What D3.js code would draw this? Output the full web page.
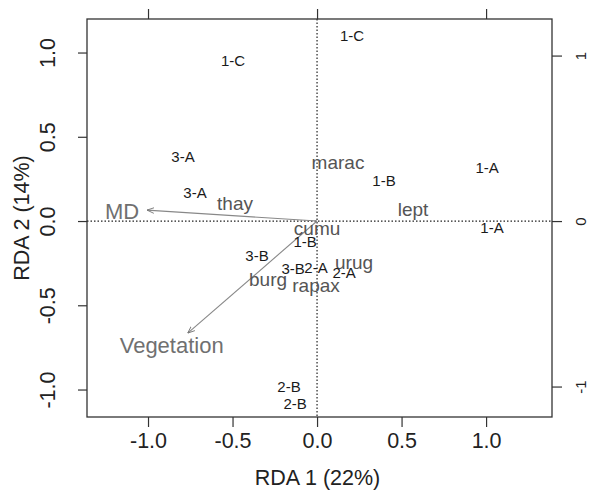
<!DOCTYPE html>
<html>
<head>
<meta charset="utf-8">
<script src="https://cdn.jsdelivr.net/npm/d3@7"></script>
<style>
  body { margin: 0; background: #fff; }
  text { font-family: "Liberation Sans", Arial, sans-serif; }
</style>
</head>
<body>
<script>
var width = 589;
var height = 491;

// site scores (labels drawn as text)
var siteLabels = ["1-C", "1-C", "3-A", "3-A", "1-A", "1-B", "1-A", "1-B", "3-B", "3-B", "2-A", "2-A", "2-B", "2-B"];
var siteX = [-0.497, 0.207, -0.793, -0.722, 1.006, 0.396, 1.035, -0.07, -0.355, -0.142, -0.006, 0.16, -0.166, -0.13];
var siteY = [0.95, 1.098, 0.38, 0.166, 0.32, 0.237, -0.04, -0.125, -0.208, -0.285, -0.279, -0.309, -0.98, -1.086];

// species scores
var speciesLabels = ["marac", "lept", "cumu", "thay", "urug", "burg", "rapax"];
var speciesX = [0.124, 0.568, 0.0, -0.485, 0.219, -0.29, -0.006];
var speciesY = [0.35, 0.071, -0.042, 0.107, -0.243, -0.344, -0.38];

// environmental vectors
var envLabels = ["MD", "Vegetation"];
var envX = [-1.006, -0.765];
var envY = [0.065, -0.665];
var envLabelX = [-1.154, -0.86];
var envLabelY = [0.06, -0.735];

var xTicks = [-1.0, -0.5, 0.0, 0.5, 1.0];
var yTicks = [-1.0, -0.5, 0.0, 0.5, 1.0];
var topTicks = [-1, 0, 1];
var rightTicks = [-1, 0, 1];

var mLeft = 87, mRight = 552, mTop = 19, mBottom = 417;

var x = d3.scaleLinear().domain([-1.361, 1.39]).range([mLeft, mRight]);
var y = d3.scaleLinear().domain([-1.163, 1.199]).range([mBottom, mTop]);
var x2 = d3.scaleLinear().domain([-1.361, 1.39]).range([mLeft, mRight]);
var y2 = d3.scaleLinear().domain([-1.184, 1.221]).range([mBottom, mTop]);

// R style labels with a plain hyphen minus
function fmt1(d) { return d.toFixed(1); }
function fmt0(d) { return String(d); }

var svg = d3.select("body").append("svg")
  .attr("width", width)
  .attr("height", height);

var axisColor = "#333";

// dotted zero lines
svg.append("line")
  .attr("x1", x(0)).attr("x2", x(0))
  .attr("y1", mTop).attr("y2", mBottom)
  .style("stroke", "#222")
  .style("stroke-width", 1.2)
  .style("stroke-dasharray", "1.5,2");
svg.append("line")
  .attr("x1", mLeft).attr("x2", mRight)
  .attr("y1", y(0)).attr("y2", y(0))
  .style("stroke", "#222")
  .style("stroke-width", 1.2)
  .style("stroke-dasharray", "1.5,2");

// axes
var bottomAxis = d3.axisBottom(x).tickValues(xTicks).tickSize(10).tickPadding(6).tickFormat(fmt1);
var leftAxis = d3.axisLeft(y).tickValues(yTicks).tickSize(9).tickFormat(fmt1);
var topAxis = d3.axisTop(x2).tickValues(topTicks).tickSize(10).tickFormat("");
var rightAxis = d3.axisRight(y2).tickValues(rightTicks).tickSize(10).tickFormat(fmt0);

function styleAxis(g) {
  g.select(".domain").remove();
  g.attr("font-family", null);
  g.selectAll(".tick line").style("stroke", axisColor).style("stroke-width", 1.2);
  g.selectAll(".tick text").style("fill", "#222");
}

svg.append("g")
  .attr("transform", "translate(0," + mBottom + ")")
  .call(bottomAxis)
  .call(styleAxis)
  .selectAll(".tick text")
  .style("font-size", "21.5px");

var gl = svg.append("g")
  .attr("transform", "translate(" + mLeft + ",0)")
  .call(leftAxis)
  .call(styleAxis);
gl.selectAll(".tick text")
  .style("font-size", "21.5px")
  .attr("text-anchor", "middle")
  .attr("x", 0).attr("y", 0).attr("dy", 0)
  .attr("transform", "translate(-32,0) rotate(-90)");

svg.append("g")
  .attr("transform", "translate(0," + mTop + ")")
  .call(topAxis)
  .call(styleAxis);

var gr = svg.append("g")
  .attr("transform", "translate(" + mRight + ",0)")
  .call(rightAxis)
  .call(styleAxis);
gr.selectAll(".tick text")
  .style("font-size", "15px")
  .attr("text-anchor", "middle")
  .attr("x", 0).attr("y", 0).attr("dy", 0)
  .attr("transform", "translate(34,0) rotate(-90)");

// box
svg.append("rect")
  .attr("x", mLeft).attr("y", mTop)
  .attr("width", mRight - mLeft).attr("height", mBottom - mTop)
  .style("fill", "none")
  .style("stroke", axisColor)
  .style("stroke-width", 1.3);

// axis titles
svg.append("text")
  .attr("x", (mLeft + mRight) / 2 - 2)
  .attr("y", 485)
  .attr("text-anchor", "middle")
  .style("font-size", "21.5px")
  .style("fill", "#222")
  .text("RDA 1 (22%)");

svg.append("text")
  .attr("transform", "translate(29," + (mTop + mBottom) / 2 + ") rotate(-90)")
  .attr("text-anchor", "middle")
  .style("font-size", "21.5px")
  .style("fill", "#222")
  .text("RDA 2 (14%)");

// arrowhead
svg.append("defs").append("marker")
  .attr("id", "head")
  .attr("viewBox", "0 0 10 10")
  .attr("refX", 10).attr("refY", 5)
  .attr("markerWidth", 7).attr("markerHeight", 7)
  .attr("markerUnits", "userSpaceOnUse")
  .attr("orient", "auto")
  .append("path")
  .attr("d", "M0,1 L10,5 L0,9")
  .style("fill", "none")
  .style("stroke", "#777")
  .style("stroke-width", 1.3);

var env = envLabels.map(function(d, i) {
  return { label: d, x: envX[i], y: envY[i], lx: envLabelX[i], ly: envLabelY[i] };
});

svg.selectAll(".env")
  .data(env)
  .enter().append("line")
  .attr("class", "env")
  .attr("x1", x(0)).attr("y1", y(0))
  .attr("x2", function(d) { return x(d.x); })
  .attr("y2", function(d) { return y(d.y); })
  .style("stroke", "#888")
  .style("stroke-width", 1.1)
  .attr("marker-end", "url(#head)");

svg.selectAll(".envlab")
  .data(env)
  .enter().append("text")
  .attr("class", "envlab")
  .attr("x", function(d) { return x(d.lx); })
  .attr("y", function(d) { return y(d.ly); })
  .attr("dy", "0.36em")
  .attr("text-anchor", "middle")
  .style("font-size", "22px")
  .style("fill", "#707070")
  .text(function(d) { return d.label; });

// species
var species = speciesLabels.map(function(d, i) {
  return { label: d, x: speciesX[i], y: speciesY[i] };
});

svg.selectAll(".sp")
  .data(species)
  .enter().append("text")
  .attr("class", "sp")
  .attr("x", function(d) { return x(d.x); })
  .attr("y", function(d) { return y(d.y); })
  .attr("dy", "0.36em")
  .attr("text-anchor", "middle")
  .style("font-size", "19px")
  .style("fill", "#555")
  .text(function(d) { return d.label; });

// sites
var sites = siteLabels.map(function(d, i) {
  return { label: d, x: siteX[i], y: siteY[i] };
});

svg.selectAll(".site")
  .data(sites)
  .enter().append("text")
  .attr("class", "site")
  .attr("x", function(d) { return x(d.x); })
  .attr("y", function(d) { return y(d.y); })
  .attr("dy", "0.36em")
  .attr("text-anchor", "middle")
  .style("font-size", "15px")
  .style("fill", "#1a1a1a")
  .text(function(d) { return d.label; });
</script>
</body>
</html>
